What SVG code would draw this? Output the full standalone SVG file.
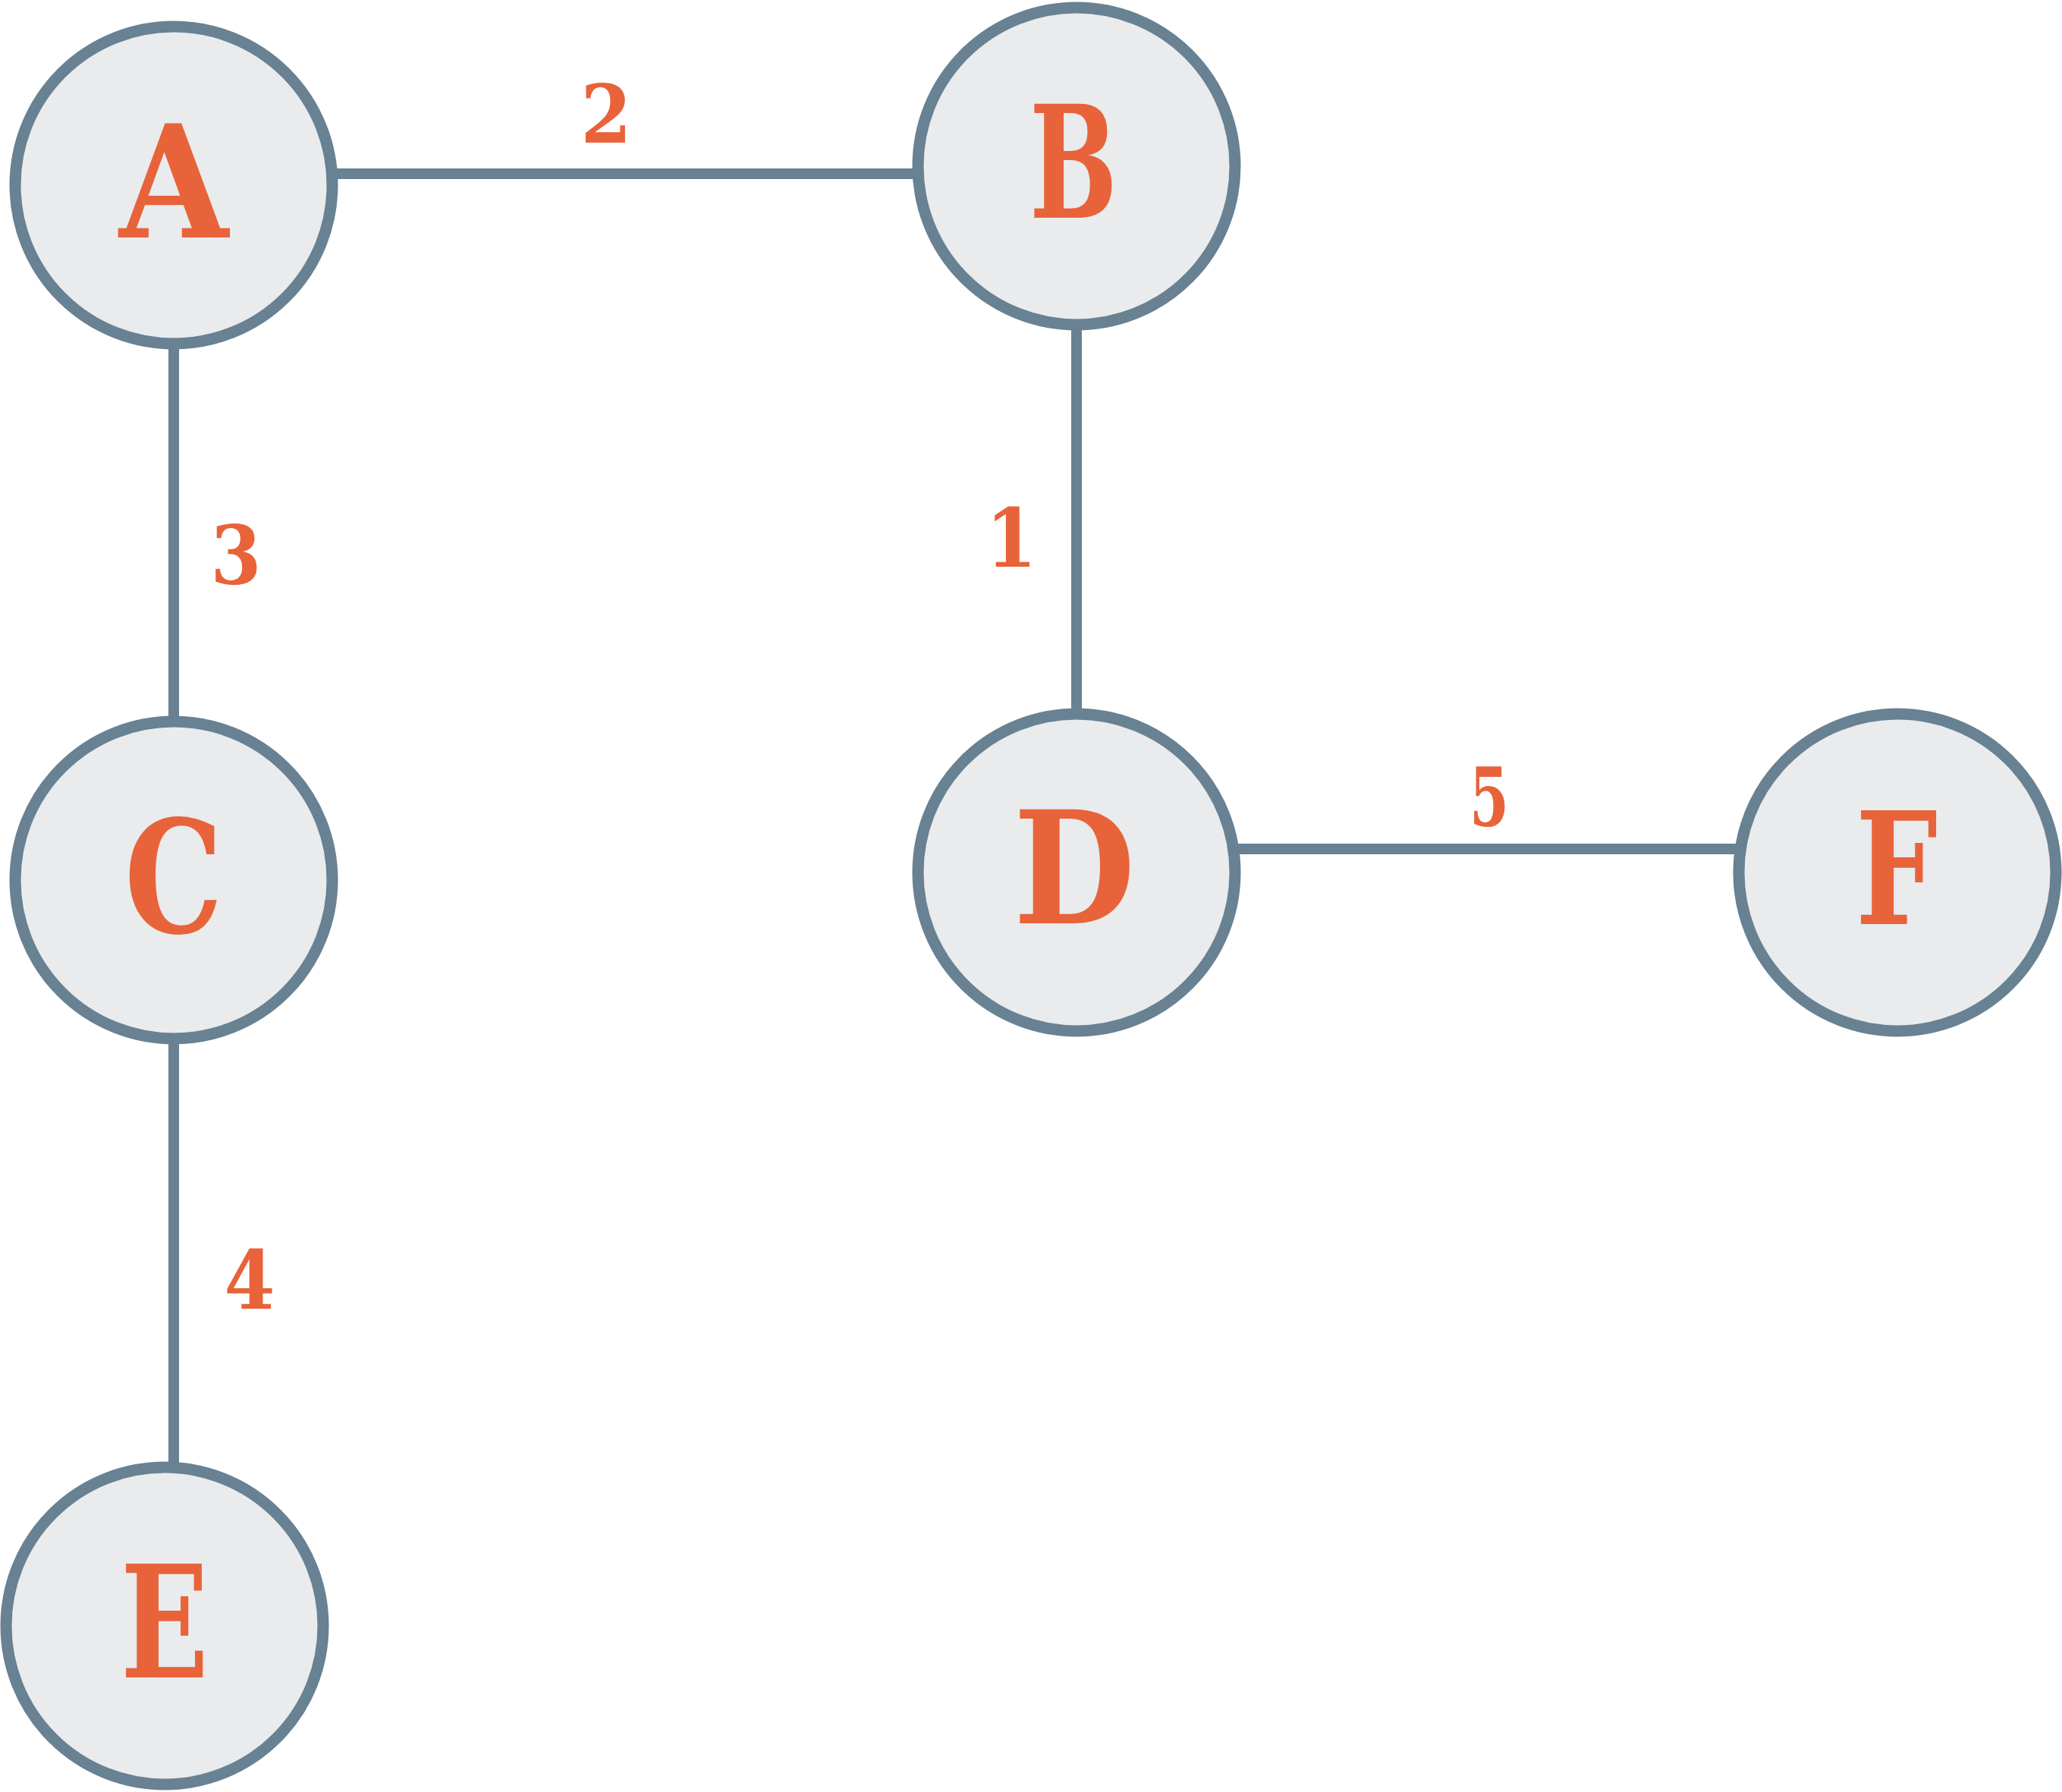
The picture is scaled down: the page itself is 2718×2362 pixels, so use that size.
<svg xmlns="http://www.w3.org/2000/svg" width="2718" height="2362" viewBox="0 0 2718 2362">
  <style>
    .edge { stroke: #688193; stroke-width: 14; fill: none; }
    .node circle { fill: #e9ebed; stroke: #688193; stroke-width: 15; }
    .node text { fill: #e8633a; font-family: "DejaVu Serif Condensed", "DejaVu Serif", serif; font-stretch: condensed; font-weight: bold; font-size: 206px; text-anchor: middle; }
    .weight { fill: #e8633a; font-family: "DejaVu Serif Condensed", "DejaVu Serif", serif; font-stretch: condensed; font-weight: bold; font-size: 107px; text-anchor: middle; }
  </style>
  <rect width="2718" height="2362" fill="#ffffff"/>

  <!-- edges, drawn beneath the nodes -->
  <g id="connectors">
    <line id="edge-A-B" class="edge" x1="300" y1="229" x2="1350" y2="229"/>
    <line id="edge-B-D" class="edge" x1="1419" y1="300" x2="1419" y2="1080"/>
    <line id="edge-A-C" class="edge" x1="229" y1="300" x2="229" y2="1100"/>
    <line id="edge-C-E" class="edge" x1="229" y1="1220" x2="229" y2="2080"/>
    <line id="edge-D-F" class="edge" x1="1480" y1="1119" x2="2440" y2="1119"/>
    <text class="weight" x="799" y="188">2</text>
    <text class="weight" x="1333" y="747">1</text>
    <text class="weight" x="311" y="769">3</text>
    <text class="weight" x="329" y="1725">4</text>
    <text class="weight" x="1963" y="1088" textLength="52" lengthAdjust="spacingAndGlyphs">5</text>
  </g>

  <g id="node-A" class="node">
    <circle cx="229" cy="244" r="209"/>
    <text x="229" y="313">A</text>
  </g>
  <g id="node-B" class="node">
    <circle cx="1419" cy="219" r="209"/>
    <text x="1415" y="287" textLength="116" lengthAdjust="spacingAndGlyphs">B</text>
  </g>
  <g id="node-C" class="node">
    <circle cx="229" cy="1160" r="209"/>
    <text x="229" y="1229" textLength="130" lengthAdjust="spacingAndGlyphs">C</text>
  </g>
  <g id="node-D" class="node">
    <circle cx="1419" cy="1150" r="209"/>
    <text x="1416" y="1217">D</text>
  </g>
  <g id="node-E" class="node">
    <circle cx="217" cy="2143" r="209"/>
    <text x="217" y="2211" textLength="116" lengthAdjust="spacingAndGlyphs">E</text>
  </g>
  <g id="node-F" class="node">
    <circle cx="2501" cy="1150" r="209"/>
    <text x="2500" y="1218" textLength="108" lengthAdjust="spacingAndGlyphs">F</text>
  </g>
</svg>
